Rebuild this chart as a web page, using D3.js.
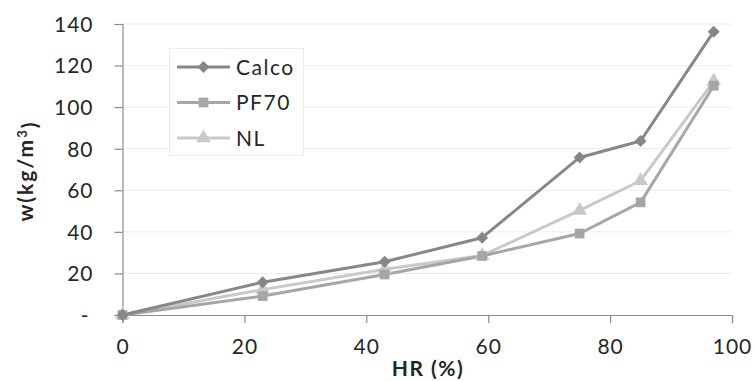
<!DOCTYPE html>
<html><head><meta charset="utf-8">
<script src="https://cdn.jsdelivr.net/npm/d3@7"></script>
<style>body{margin:0;background:#fff}svg{display:block}</style>
</head><body>
<svg id="c" width="755" height="381"></svg>
<script>
const hr = [0, 23, 43, 59, 75, 85, 97];
const calco = [0, 15.8, 25.6, 37.2, 75.8, 83.7, 136.3];
const pf70 = [0, 9.1, 19.5, 28.4, 39.2, 54.2, 110.3];
const nl = [0, 12.2, 22.0, 28.6, 50.3, 64.6, 112.5];
const seriesNames = ["Calco", "PF70", "NL"];
const xTicks = [0, 20, 40, 60, 80, 100];
const yTicks = [0, 20, 40, 60, 80, 100, 120, 140];

const colors = ["#878787", "#a6a6a6", "#c9c9c9"];
const symbols = [d3.symbolSquare, d3.symbolSquare, d3.symbolTriangle];
const rot = [45, 0, 0];
const sizes = [72, 95, 95];
const font = "Lato, 'Open Sans', sans-serif";

const svg = d3.select("#c");
const x = d3.scaleLinear().domain([0, 100]).range([122.5, 732]);
const y = d3.scaleLinear().domain([0, 140]).range([315, 24]);

// grid
svg.append("g").selectAll("line").data(yTicks.slice(1)).join("line")
  .attr("x1", x(0)).attr("x2", x(100))
  .attr("y1", d => y(d)).attr("y2", d => y(d))
  .attr("stroke", "#ececec").attr("stroke-width", 1);

// axes
const xAxis = svg.append("g").attr("transform", `translate(0,${y(0)})`)
  .call(d3.axisBottom(x).tickValues(xTicks).tickSize(8).tickPadding(16).tickFormat(d3.format("d")));
const yAxis = svg.append("g").attr("transform", `translate(${x(0)},0)`)
  .call(d3.axisLeft(y).tickValues(yTicks).tickSize(8).tickPadding(21)
    .tickFormat(d => d === 0 ? "-" : d));
[xAxis, yAxis].forEach(g => {
  g.select(".domain").attr("stroke", "#8c8c8c").attr("stroke-width", 1.2);
  g.selectAll(".tick line").attr("stroke", "#8c8c8c").attr("stroke-width", 1.2);
  g.selectAll("text").attr("fill", "#262626").style("font-family", font)
    .style("font-size", "21px").style("letter-spacing", "1px");
});
yAxis.selectAll(".tick text").attr("dy", "0.35em");
yAxis.select(".tick text").attr("dx", "-4");

// series
const data = [calco, pf70, nl];
const line = d3.line().x((d, i) => x(hr[i])).y(d => y(d));
const order = [2, 1, 0];
order.forEach(k => {
  svg.append("path").datum(data[k]).attr("d", line)
    .attr("fill", "none").attr("stroke", colors[k]).attr("stroke-width", 3)
    .attr("stroke-linejoin", "round");
});
order.forEach(k => {
  svg.append("g").selectAll("path").data(data[k]).join("path")
    .attr("transform", (d, i) => `translate(${x(hr[i])},${y(d)}) rotate(${rot[k]})`)
    .attr("d", d3.symbol().type(symbols[k]).size(sizes[k]))
    .attr("fill", colors[k]);
});

// legend
const lg = svg.append("g");
lg.append("rect").attr("x", 169.5).attr("y", 48.5).attr("width", 134).attr("height", 107)
  .attr("fill", "#fff").attr("stroke", "#ececec");
seriesNames.forEach((n, k) => {
  const cy = 67 + k * 35.5;
  lg.append("line").attr("x1", 177).attr("x2", 230).attr("y1", cy).attr("y2", cy)
    .attr("stroke", colors[k]).attr("stroke-width", 3);
  lg.append("path").attr("transform", `translate(203.5,${cy}) rotate(${rot[k]})`)
    .attr("d", d3.symbol().type(symbols[k]).size(sizes[k])).attr("fill", colors[k]);
  lg.append("text").attr("x", 236).attr("y", cy).attr("dy", "0.36em")
    .text(n).attr("fill", "#262626").style("font-family", font)
    .style("font-size", "21px").style("letter-spacing", "1.5px");
});

// axis titles
svg.append("text").attr("x", 428).attr("y", 376).attr("text-anchor", "middle")
  .text("HR (%)").attr("fill", "#262626").style("font-family", font)
  .style("font-size", "21px").style("font-weight", "bold").style("letter-spacing", "1.5px");
const yt = svg.append("text").attr("transform", "translate(33,171) rotate(-90)")
  .attr("text-anchor", "middle").attr("fill", "#262626")
  .style("font-family", font).style("font-size", "21px").style("font-weight", "bold")
  .style("letter-spacing", "2px");
yt.append("tspan").text("w(kg/m");
yt.append("tspan").text("3").attr("dy", "-0.45em").style("font-size", "13px");
yt.append("tspan").text(")").attr("dy", "0.45em");
</script>
</body></html>
